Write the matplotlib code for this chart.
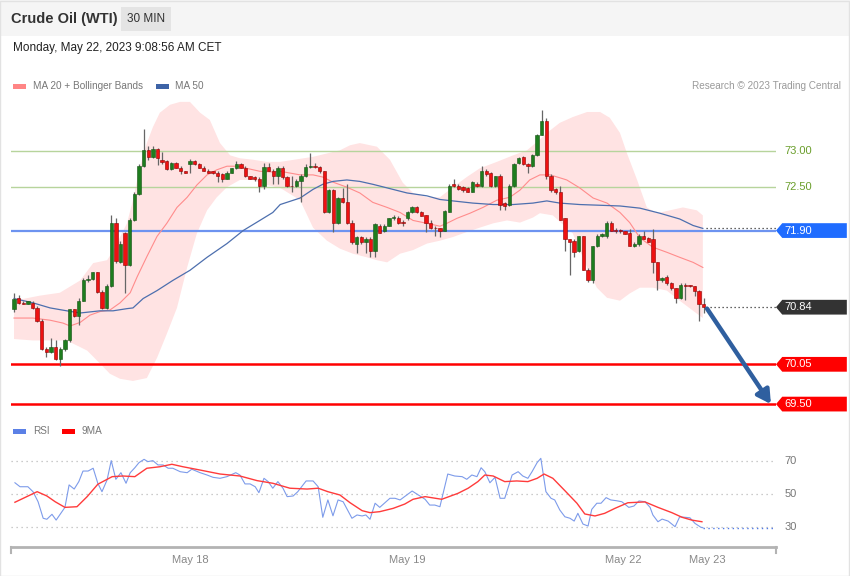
import numpy as np
import matplotlib
matplotlib.use("Agg")
import matplotlib.pyplot as plt
from matplotlib.patches import Rectangle, Polygon

plt.rcParams["font.family"] = ["Liberation Sans", "DejaVu Sans"]

# --- candles (30 min bars, index 0 = first bar on the chart) ---
opens = [70.81, 70.97, 70.90, 70.89, 70.90, 70.83, 70.65, 70.26, 70.22, 70.29,
         70.12, 70.26, 70.39, 70.81, 70.72, 70.93, 71.22, 71.23, 71.32, 71.05,
         70.83, 71.14, 72.00, 71.47, 71.86, 71.43, 72.04, 72.40, 72.79, 73.01,
         72.92, 73.03, 72.87, 72.86, 72.75, 72.84, 72.77, 72.72, 72.82, 72.86,
         72.82, 72.77, 72.73, 72.72, 72.70, 72.68, 72.62, 72.70, 72.76, 72.82,
         72.77, 72.65, 72.64, 72.62, 72.51, 72.78, 72.72, 72.65, 72.77, 72.64,
         72.52, 72.51, 72.58, 72.65, 72.78, 72.79, 72.78, 72.72, 72.15, 72.46,
         72.00, 72.35, 72.29, 72.01, 71.72, 71.81, 71.74, 71.79, 71.62, 71.97,
         71.89, 71.97, 72.07, 72.08, 72.01, 72.07, 72.15, 72.22, 72.15, 72.11,
         72.00, 71.94, 71.93, 71.90, 72.15, 72.54, 72.51, 72.50, 72.49, 72.44,
         72.54, 72.51, 72.72, 72.69, 72.51, 72.65, 72.28, 72.25, 72.51, 72.83,
         72.92, 72.82, 72.79, 72.94, 73.22, 73.42, 72.65, 72.47, 72.43, 72.07,
         71.78, 71.76, 71.62, 71.82, 71.36, 71.21, 71.68, 71.82, 71.82, 72.01,
         71.90, 71.90, 71.89, 71.86, 71.68, 71.71, 71.83, 71.80, 71.78, 71.46,
         71.21, 71.26, 71.17, 71.10, 70.97, 71.15, 71.14, 71.14, 71.06, 70.89]
closes = [70.96, 70.90, 70.89, 70.92, 70.83, 70.65, 70.26, 70.22, 70.29, 70.12,
          70.26, 70.39, 70.81, 70.72, 70.93, 71.22, 71.23, 71.32, 71.05, 70.83,
          71.14, 72.00, 71.48, 71.72, 71.43, 72.04, 72.40, 72.79, 73.01, 72.92,
          73.03, 72.90, 72.85, 72.75, 72.84, 72.77, 72.72, 72.70, 72.86, 72.82,
          72.77, 72.72, 72.70, 72.69, 72.66, 72.62, 72.70, 72.76, 72.82, 72.77,
          72.65, 72.62, 72.61, 72.51, 72.78, 72.72, 72.65, 72.77, 72.64, 72.51,
          72.51, 72.58, 72.65, 72.78, 72.79, 72.78, 72.72, 72.15, 72.46, 72.00,
          72.35, 72.29, 72.00, 71.74, 71.81, 71.74, 71.79, 71.62, 71.99, 71.87,
          71.97, 72.07, 72.08, 72.00, 72.00, 72.15, 72.22, 72.15, 72.10, 72.00,
          71.93, 71.93, 71.90, 72.17, 72.51, 72.51, 72.47, 72.46, 72.44, 72.57,
          72.51, 72.72, 72.68, 72.51, 72.65, 72.26, 72.24, 72.51, 72.82, 72.90,
          72.82, 72.79, 72.94, 73.22, 73.42, 72.65, 72.46, 72.43, 72.05, 71.79,
          71.74, 71.61, 71.82, 71.36, 71.21, 71.68, 71.83, 71.85, 72.01, 71.90,
          71.89, 71.89, 71.85, 71.68, 71.72, 71.83, 71.79, 71.74, 71.46, 71.21,
          71.25, 71.17, 71.10, 70.97, 71.15, 71.14, 71.13, 71.06, 70.89, 70.84]
highs = [71.03, 71.01, 70.92, 70.93, 70.92, 70.85, 70.67, 70.29, 70.42, 70.38,
         70.29, 70.40, 70.82, 70.82, 70.97, 71.25, 71.28, 71.33, 71.33, 71.08,
         71.16, 72.12, 72.08, 71.76, 71.88, 72.08, 72.43, 72.82, 73.30, 73.07,
         73.07, 73.04, 72.98, 72.87, 72.85, 72.85, 72.79, 72.73, 72.89, 72.87,
         72.83, 72.79, 72.75, 72.73, 72.72, 72.69, 72.72, 72.77, 72.86, 72.83,
         72.79, 72.65, 72.65, 72.64, 72.83, 72.83, 72.75, 72.79, 72.79, 72.65,
         72.65, 72.61, 72.68, 72.82, 72.97, 72.83, 72.79, 72.73, 72.47, 72.47,
         72.36, 72.49, 72.54, 72.04, 71.83, 71.83, 71.81, 71.81, 72.00, 71.99,
         71.99, 72.08, 72.12, 72.10, 72.04, 72.17, 72.24, 72.24, 72.17, 72.12,
         72.04, 71.97, 71.94, 72.19, 72.54, 72.61, 72.54, 72.51, 72.50, 72.58,
         72.57, 72.79, 72.75, 72.71, 72.66, 72.68, 72.29, 72.54, 72.83, 72.92,
         72.93, 72.83, 72.96, 73.24, 73.57, 73.45, 72.68, 72.49, 72.51, 72.08,
         71.79, 71.79, 71.83, 71.83, 71.38, 71.69, 71.85, 71.86, 72.03, 72.03,
         71.93, 71.92, 71.90, 71.92, 71.74, 71.85, 71.90, 71.81, 71.92, 71.47,
         71.26, 71.28, 71.19, 71.11, 71.17, 71.17, 71.15, 71.14, 71.08, 70.97]
lows = [70.78, 70.88, 70.88, 70.88, 70.82, 70.64, 70.25, 70.15, 70.21, 70.11,
        70.03, 70.24, 70.36, 70.71, 70.60, 70.92, 71.19, 71.22, 71.04, 70.82,
        70.82, 71.12, 71.45, 71.45, 71.03, 71.41, 72.03, 72.39, 72.78, 72.88,
        72.90, 72.80, 72.82, 72.74, 72.74, 72.76, 72.68, 72.69, 72.70, 72.80,
        72.76, 72.72, 72.69, 72.68, 72.57, 72.57, 72.61, 72.69, 72.75, 72.76,
        72.64, 72.61, 72.59, 72.44, 72.47, 72.72, 72.54, 72.54, 72.61, 72.50,
        72.44, 72.50, 72.30, 72.64, 72.76, 72.76, 72.70, 72.14, 72.14, 71.88,
        71.99, 72.28, 71.99, 71.72, 71.59, 71.72, 71.59, 71.54, 71.53, 71.86,
        71.88, 71.96, 72.05, 71.99, 71.97, 72.05, 72.14, 72.14, 72.10, 71.88,
        71.92, 71.83, 71.81, 71.89, 72.15, 72.50, 72.46, 72.44, 72.43, 72.43,
        72.50, 72.50, 72.66, 72.50, 72.50, 72.18, 72.18, 72.24, 72.50, 72.82,
        72.80, 72.70, 72.78, 72.93, 73.22, 72.62, 72.44, 72.40, 72.04, 71.62,
        71.29, 71.53, 71.61, 71.35, 71.19, 71.18, 71.67, 71.81, 71.80, 71.89,
        71.87, 71.87, 71.85, 71.68, 71.67, 71.69, 71.78, 71.74, 71.31, 71.08,
        71.19, 71.15, 71.08, 70.90, 70.96, 70.94, 71.12, 70.99, 70.65, 70.76]

# --- Bollinger bands / moving averages (bar index, price) ---
bb_up_x = [0, 5.6, 9.9, 14.3, 17.1, 20.1, 21.4, 24.4, 25.7, 27.2, 28.7, 30.0, 31.5, 33.7,
           35.9, 38.0, 40.2, 42.3, 44.5, 46.7, 48.8, 51.6, 54.6, 57.5, 64.6, 70.4, 72.6,
           74.7, 78.4, 81.2, 84.0, 86.2, 89.2, 92.0, 94.8, 97.8, 100.6, 104.3, 107.8,
           110.8, 113.6, 115.1, 117.9, 120.7, 123.8, 126.6, 128.7, 130.9, 132.4, 134.6,
           136.7, 138.9, 141.7, 144.5, 147.5, 148.8]
bb_up = [70.93, 71.00, 71.04, 71.21, 71.45, 71.49, 71.62, 72.00, 72.32, 72.78, 73.11,
         73.33, 73.53, 73.64, 73.68, 73.68, 73.53, 73.43, 73.11, 72.94, 72.90, 72.88,
         72.85, 72.85, 72.92, 73.01, 73.08, 73.11, 73.06, 72.88, 72.56, 72.42, 72.36,
         72.36, 72.50, 72.64, 72.76, 72.85, 72.94, 73.01, 73.16, 73.25, 73.39, 73.47,
         73.54, 73.54, 73.46, 73.25, 72.97, 72.60, 72.22, 72.14, 72.18, 72.22, 72.18, 72.11]
bb_lo_x = [0, 4.1, 11.4, 15.8, 18.6, 20.7, 22.9, 25.7, 28.7, 30.9, 33.0, 35.2, 37.4, 39.5,
           41.7, 43.8, 46.0, 48.8, 51.6, 54.6, 57.5, 61.8, 64.6, 67.6, 70.4, 73.2, 76.2,
           78.4, 80.6, 83.4, 86.2, 89.2, 92.0, 94.8, 97.8, 100.6, 103.5, 106.5, 109.3,
           112.1, 113.6, 116.4, 120.7, 123.8, 125.9, 128.1, 130.9, 133.0, 135.2, 138.0,
           141.0, 143.8, 146.7, 148.8]
bb_lo = [70.40, 70.38, 70.38, 70.24, 70.06, 69.92, 69.85, 69.82, 69.86, 70.14, 70.47,
         70.83, 71.39, 71.86, 72.18, 72.36, 72.50, 72.60, 72.60, 72.53, 72.49, 72.32,
         71.94, 71.76, 71.65, 71.58, 71.53, 71.49, 71.46, 71.58, 71.63, 71.72, 71.76,
         71.81, 71.88, 71.94, 72.00, 72.04, 72.01, 72.08, 72.14, 72.11, 71.86, 71.39,
         71.11, 70.97, 70.93, 71.03, 71.11, 71.11, 71.07, 70.93, 70.79, 70.69]
ma20_x = [0, 4.1, 7.8, 10.6, 12.1, 14.3, 16.4, 18.6, 20.7, 22.9, 25.1, 26.6, 28.7, 30.9,
          33.0, 35.2, 37.4, 39.5, 41.7, 43.8, 46.0, 48.2, 50.3, 53.1, 55.9, 57.5, 61.8,
          64.6, 66.7, 68.9, 71.9, 74.7, 77.5, 80.6, 83.4, 86.2, 89.2, 92.0, 93.5, 95.7,
          98.5, 101.3, 104.3, 107.1, 109.3, 111.4, 113.6, 115.8, 117.9, 119.4, 122.2,
          125.1, 128.1, 130.9, 133.0, 135.2, 138.0, 141.0, 143.8, 146.7, 148.8]
ma20 = [70.69, 70.69, 70.66, 70.62, 70.58, 70.63, 70.73, 70.78, 70.80, 70.90, 71.04,
        71.26, 71.54, 71.82, 72.00, 72.22, 72.36, 72.53, 72.67, 72.74, 72.79, 72.79,
        72.76, 72.72, 72.71, 72.72, 72.67, 72.67, 72.64, 72.57, 72.50, 72.42, 72.29,
        72.22, 72.15, 72.04, 72.00, 71.96, 72.00, 72.07, 72.14, 72.22, 72.32, 72.36,
        72.46, 72.60, 72.67, 72.67, 72.63, 72.60, 72.49, 72.35, 72.28, 72.15, 72.01,
        71.80, 71.67, 71.60, 71.53, 71.46, 71.39]
ma50_x = [0, 4.1, 7.8, 11.4, 14.3, 18.6, 21.4, 24.4, 25.7, 27.9, 30.9, 34.3, 38.0, 41.7,
          46.0, 49.5, 53.1, 55.9, 57.5, 61.8, 64.6, 66.7, 68.9, 71.9, 74.7, 77.5, 80.6,
          84.9, 89.2, 92.0, 94.8, 99.1, 103.5, 107.8, 112.1, 115.1, 117.9, 122.2, 126.6,
          130.9, 135.2, 139.5, 143.8, 146.7, 148.8]
ma50 = [70.96, 70.90, 70.83, 70.79, 70.76, 70.79, 70.79, 70.82, 70.83, 70.96, 71.07,
        71.21, 71.35, 71.53, 71.72, 71.90, 72.04, 72.15, 72.26, 72.35, 72.47, 72.54,
        72.58, 72.60, 72.58, 72.54, 72.49, 72.42, 72.38, 72.33, 72.31, 72.28, 72.26,
        72.26, 72.28, 72.31, 72.28, 72.26, 72.25, 72.24, 72.21, 72.14, 72.06, 71.97, 71.93]

# --- RSI panel ---
rsi_x = [0.2, 1.3, 3.0, 4.1, 5.2, 6.3, 7.1, 8.2, 9.1, 11.0, 11.9, 13.0, 14.0, 14.9, 16.0,
         17.1, 18.1, 19.0, 20.1, 21.0, 22.0, 23.1, 24.2, 25.1, 26.1, 27.0, 28.1, 28.9,
         30.0, 31.1, 32.2, 33.3, 34.3, 35.9, 37.4, 38.4, 40.2, 41.7, 43.0, 44.5, 46.0,
         47.9, 48.8, 49.9, 51.0, 52.1, 52.9, 54.0, 54.9, 55.9, 57.0, 58.1, 59.0, 60.3,
         61.3, 63.1, 64.6, 65.7, 66.7, 67.8, 68.9, 70.0, 71.1, 73.0, 74.1, 75.2, 76.0,
         76.9, 78.0, 79.0, 81.2, 82.3, 83.4, 86.0, 87.7, 88.8, 89.8, 90.9, 92.0, 93.7,
         95.2, 96.8, 97.8, 98.9, 100.0, 100.9, 101.7, 102.8, 103.9, 105.0, 106.0, 107.6,
         108.9, 109.9, 111.0, 111.9, 113.0, 113.8, 114.9, 116.0, 116.8, 117.9, 119.0,
         120.1, 121.0, 121.8, 122.9, 124.0, 124.8, 125.9, 126.8, 127.9, 128.9, 130.2,
         131.3, 132.8, 133.9, 135.0, 136.3, 137.4, 138.0, 139.1, 140.0, 141.3, 142.8,
         143.8, 144.9, 146.0, 147.1, 148.4, 148.8]
rsi = [56.8, 54.4, 54.4, 51.4, 45.3, 35.3, 34.7, 37.7, 34.2, 41.9, 55.5, 53.0, 57.5, 63.9,
       63.9, 65.6, 56.5, 51.4, 58.5, 70.2, 58.9, 62.9, 56.5, 62.9, 65.9, 69.0, 71.0, 69.6,
       70.2, 67.6, 67.6, 65.6, 65.6, 63.5, 62.9, 65.0, 62.9, 61.5, 60.1, 59.5, 60.5, 62.9,
       61.5, 56.1, 56.1, 54.4, 50.8, 59.5, 57.5, 53.5, 57.5, 53.5, 48.4, 48.8, 51.4, 57.9,
       57.9, 54.4, 35.9, 46.4, 36.8, 46.4, 45.3, 35.3, 37.3, 36.7, 37.3, 34.7, 44.4, 41.9,
       47.4, 47.4, 46.4, 51.8, 48.8, 46.8, 43.3, 43.3, 42.3, 62.1, 60.9, 60.5, 58.9, 61.5,
       60.5, 65.9, 63.5, 56.8, 60.1, 47.4, 47.4, 61.5, 63.5, 60.9, 59.5, 63.5, 69.0, 71.6,
       51.4, 47.4, 46.4, 40.3, 36.2, 35.3, 33.6, 38.3, 31.8, 30.6, 40.7, 44.4, 44.4, 47.8,
       46.4, 45.9, 45.3, 41.9, 42.7, 45.8, 45.3, 41.9, 37.3, 33.2, 34.8, 33.6, 30.2, 36.2,
       35.9, 35.6, 32.2, 29.8, 29.6]
rsi_ma_x = [0.2, 5.0, 7.1, 8.9, 11.0, 13.6, 15.8, 18.1, 21.2, 23.5, 26.1, 28.7, 31.5, 34.1,
            36.5, 40.2, 44.5, 48.8, 52.5, 55.9, 59.6, 63.3, 65.7, 67.8, 70.4, 72.6, 75.2,
            76.9, 79.0, 81.9, 84.4, 86.2, 88.8, 92.4, 95.9, 98.1, 100.2, 101.7, 103.5,
            106.0, 108.6, 111.0, 113.0, 114.5, 116.4, 119.0, 121.6, 123.3, 125.5, 127.6,
            129.8, 132.6, 136.3, 139.1, 142.1, 144.3, 146.4, 148.6]
rsi_ma = [45.0, 51.4, 48.8, 45.3, 41.9, 42.3, 48.4, 55.9, 60.5, 60.9, 60.5, 65.6, 66.5,
          68.0, 66.5, 64.5, 62.1, 60.9, 58.1, 56.5, 53.5, 53.0, 53.5, 51.4, 49.4, 44.7,
          39.9, 38.7, 39.3, 41.3, 43.9, 46.8, 48.4, 46.8, 50.4, 53.5, 57.5, 61.5, 60.9,
          57.5, 57.9, 57.5, 59.5, 62.1, 59.5, 52.0, 44.4, 37.9, 36.7, 38.3, 41.3, 44.7,
          45.2, 41.9, 38.7, 35.9, 34.2, 33.2]
rsi_levels = [70, 50, 30]

# --- levels and labels ---
resist_levels = [73.00, 72.50]
pivot_level = 71.90
last_price = 70.84
support_levels = [70.05, 69.50]
target_from = (149.7, 70.82)
target_to = (163.5, 69.50)
date_ticks = [38.0, 84.9, 131.7, 149.7]
date_labels = ["May 18", "May 19", "May 22", "May 23"]

W, H = 850, 576
fig = plt.figure(figsize=(W / 100, H / 100), dpi=100)


def fx(px):
    return px / W


def fy(py):
    return 1 - py / H


# header strip, border
fig.patches.append(Rectangle((0, fy(36)), 1, 36 / H, transform=fig.transFigure,
                             facecolor="#f5f5f5", edgecolor="none", zorder=0))
fig.patches.append(Rectangle((fx(121), fy(31)), 50 / W, 24 / H, transform=fig.transFigure,
                             facecolor="#e4e4e4", edgecolor="none", zorder=1))
fig.patches.append(Rectangle((0, 0), 1 - 1 / W, 1 - 1 / H, transform=fig.transFigure,
                             facecolor="none", edgecolor="#e2e2e2", lw=1, zorder=1))
fig.text(fx(11), fy(19), "Crude Oil (WTI)", fontsize=10.5, weight="bold", color="#333333", va="center")
fig.text(fx(146), fy(19), "30 MIN", fontsize=8.5, color="#333333", va="center", ha="center")
fig.text(fx(13), fy(48), "Monday, May 22, 2023 9:08:56 AM CET", fontsize=8.5, color="#222222", va="center")

# legends
fig.patches.append(Rectangle((fx(13), fy(89)), 13 / W, 5 / H, transform=fig.transFigure,
                             facecolor="#ff8585", edgecolor="none"))
fig.text(fx(33), fy(86), "MA 20 + Bollinger Bands", fontsize=7.2, color="#777777", va="center")
fig.patches.append(Rectangle((fx(156), fy(89)), 13 / W, 5 / H, transform=fig.transFigure,
                             facecolor="#3d63a6", edgecolor="none"))
fig.text(fx(175), fy(86), "MA 50", fontsize=7.2, color="#777777", va="center")
fig.text(fx(841), fy(86), "Research \u00a9 2023 Trading Central", fontsize=7.2,
         color="#9a9a9a", va="center", ha="right")
fig.patches.append(Rectangle((fx(13), fy(434)), 13 / W, 5 / H, transform=fig.transFigure,
                             facecolor="#5b80e6", edgecolor="none"))
fig.text(fx(33), fy(431), "RSI", fontsize=7.2, color="#777777", va="center")
fig.patches.append(Rectangle((fx(62), fy(434)), 13 / W, 5 / H, transform=fig.transFigure,
                             facecolor="#ff0000", edgecolor="none"))
fig.text(fx(82), fy(431), "9MA", fontsize=7.2, color="#777777", va="center")

# ---------------- price panel ----------------
x_lim = (-0.65, 164.6)
ax = fig.add_axes([fx(11), fy(415), 765 / W, 320 / H])
ax.set_xlim(*x_lim)
ax.set_ylim(69.349, 73.775)
ax.axis("off")

band = list(zip(bb_up_x, bb_up)) + list(zip(bb_lo_x, bb_lo))[::-1]
ax.add_patch(Polygon(band, closed=True, facecolor="#ffe3e3", edgecolor="none", zorder=1))
ax.plot(ma20_x, ma20, color="#ff8c8c", lw=0.8, zorder=2)
ax.plot(ma50_x, ma50, color="#4d6fae", lw=0.9, zorder=2)

for lv in resist_levels:
    ax.axhline(lv, color="#b7d49c", lw=1, zorder=1.5)
    ax.text(166.5, lv, f"{lv:.2f}", color="#6a9e2b", fontsize=8, va="center", clip_on=False)
ax.axhline(pivot_level, color="#6d93f0", lw=1.6, zorder=1.5)
for lv in support_levels:
    ax.axhline(lv, color="#ff0000", lw=1.8, zorder=1.5)

# candles
idx = np.arange(len(closes))
o = np.array(opens)
c = np.array(closes)
up = c >= o
ax.vlines(idx, lows, highs, color="#666666", lw=0.9, zorder=3)
body_lo = np.minimum(o, c)
body_h = np.maximum(np.abs(c - o), 0.012)
ax.bar(idx[up], body_h[up], bottom=body_lo[up], width=0.72, color="#1e7d1e",
       edgecolor="#145214", lw=0.4, zorder=4)
ax.bar(idx[~up], body_h[~up], bottom=body_lo[~up], width=0.72, color="#ee1111",
       edgecolor="#8b0000", lw=0.4, zorder=4)

# dotted extensions to the labels
ax.plot([idx[-1] + 0.5, x_lim[1]], [ma50[-1], ma50[-1]], ls=(0, (1, 2.2)), color="#333333", lw=0.9)
ax.plot([idx[-1] + 0.5, x_lim[1]], [last_price, last_price], ls=(0, (1, 2.2)), color="#333333", lw=0.9)


def tag(level, color):
    hh = 0.102
    pts = [(x_lim[1], level), (x_lim[1] + 1.35, level + hh), (179.9, level + hh),
           (179.9, level - hh), (x_lim[1] + 1.35, level - hh)]
    ax.add_patch(Polygon(pts, closed=True, facecolor=color, edgecolor="none",
                         clip_on=False, zorder=5))
    ax.text(166.5, level, f"{level:.2f}", color="white", fontsize=8, va="center",
            clip_on=False, zorder=6)


tag(pivot_level, "#1f6cff")
tag(last_price, "#333333")
for lv in support_levels:
    tag(lv, "#ff0000")

ax.annotate("", xy=target_to, xytext=target_from,
            arrowprops=dict(arrowstyle="-|>,head_width=0.45,head_length=0.8",
                            color="#2f5f9f", lw=3.2, shrinkA=0, shrinkB=0), zorder=6)

# ---------------- RSI panel ----------------
rax = fig.add_axes([fx(11), fy(547), 765 / W, 107 / H])
rax.set_xlim(*x_lim)
rax.set_ylim(17.9, 82.7)
for s in ["top", "left", "right"]:
    rax.spines[s].set_visible(False)
rax.spines["bottom"].set_color("#b3b3b3")
rax.spines["bottom"].set_linewidth(2)
rax.set_yticks([])
rax.set_xticks(date_ticks)
rax.set_xticklabels(date_labels, fontsize=8, color="#888888")
rax.tick_params(axis="x", length=0, pad=6)
for xe in x_lim:
    rax.plot([xe, xe], [17.9, 14.5], color="#b3b3b3", lw=1.5, clip_on=False)

for lv in rsi_levels:
    rax.axhline(lv, color="#bbbbbb", lw=0.9, ls=(0, (1, 3)), zorder=1)
    rax.text(166.5, lv, str(lv), color="#777777", fontsize=8, va="center", clip_on=False)
rax.plot(rsi_ma_x, rsi_ma, color="#ff3b3b", lw=1.0, zorder=3)
rax.plot(rsi_x, rsi, color="#7d9bea", lw=0.8, zorder=2)
rax.plot([rsi_x[-1], x_lim[1]], [rsi[-1], rsi[-1]], color="#4f7ae8", lw=1.0,
         ls=(0, (1, 2.5)), zorder=2)

fig.savefig("out.png", dpi=100)
